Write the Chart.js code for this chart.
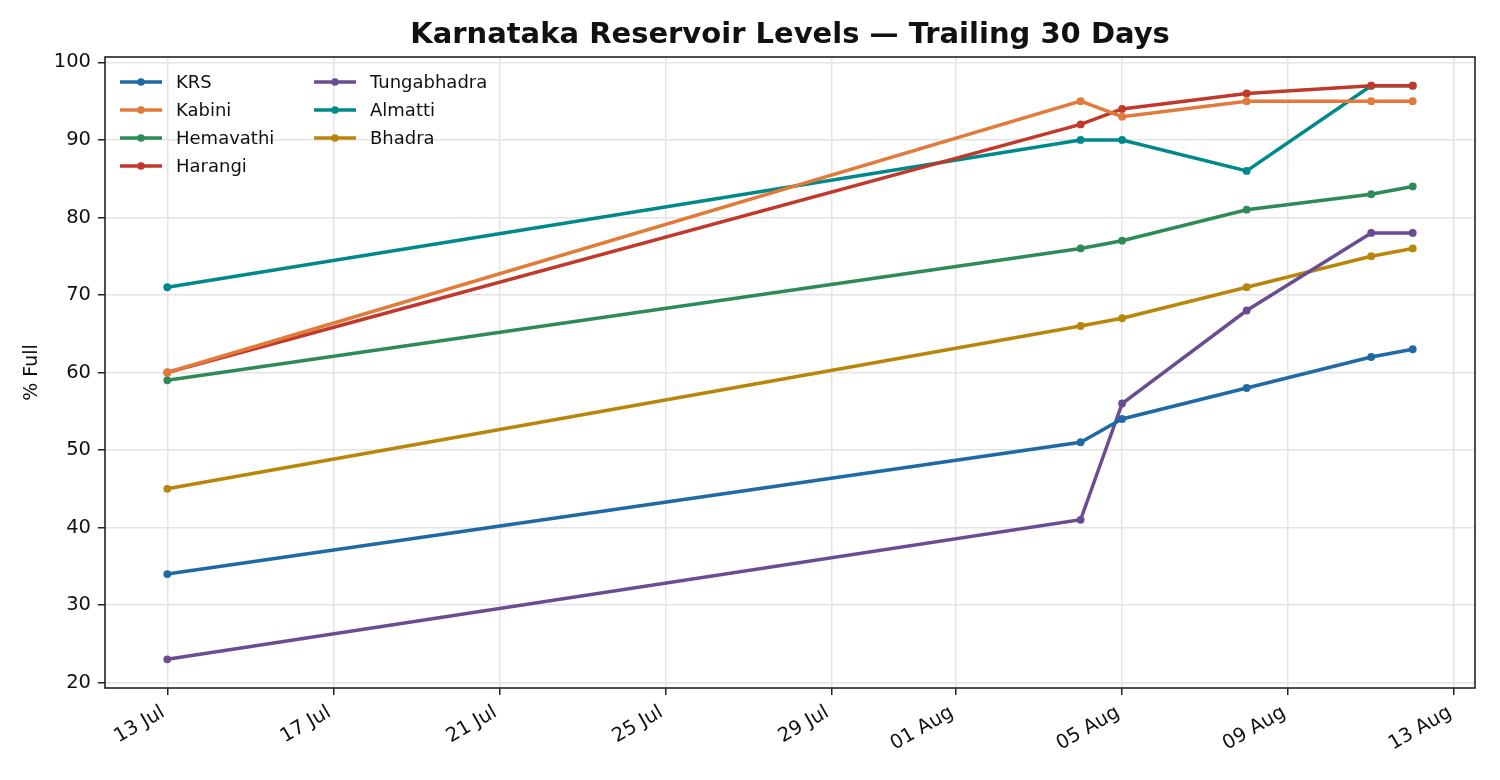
<!DOCTYPE html>
<html lang="en">
<head>
  <meta charset="UTF-8">
  <title>Karnataka Reservoir Levels</title>
  <script src="https://cdn.jsdelivr.net/npm/chart.js@4.4.1/dist/chart.umd.min.js"></script>
  <style>
    body { margin: 0; background: #fff; }
    .wrap { width: 1500px; height: 780px; position: relative; }
  </style>
</head>
<body>
  <div class="wrap"><canvas id="levels"></canvas></div>

  <script>
    // observation dates and % full per reservoir
    const dates = ['2024-07-13', '2024-08-04', '2024-08-05', '2024-08-08', '2024-08-11', '2024-08-12'];
    const krs         = [34, 51, 54, 58, 62, 63];
    const kabini      = [60, 95, 93, 95, 95, 95];
    const hemavathi   = [59, 76, 77, 81, 83, 84];
    const harangi     = [60, 92, 94, 96, 97, 97];
    const tungabhadra = [23, 41, 56, 68, 78, 78];
    const almatti     = [71, 90, 90, 86, 97, 97];
    const bhadra      = [45, 66, 67, 71, 75, 76];

    const tickDates  = ['2024-07-13', '2024-07-17', '2024-07-21', '2024-07-25', '2024-07-29',
                        '2024-08-01', '2024-08-05', '2024-08-09', '2024-08-13'];
    const tickLabels = ['13 Jul', '17 Jul', '21 Jul', '25 Jul', '29 Jul', '01 Aug', '05 Aug', '09 Aug', '13 Aug'];
    const yTicks = [20, 30, 40, 50, 60, 70, 80, 90, 100];

    const series = [
      ['KRS', krs, '#1f6aa5'],
      ['Kabini', kabini, '#e27b3a'],
      ['Hemavathi', hemavathi, '#2e8b57'],
      ['Harangi', harangi, '#c0392b'],
      ['Tungabhadra', tungabhadra, '#6a4c93'],
      ['Almatti', almatti, '#00898a'],
      ['Bhadra', bhadra, '#b8860b']
    ];

    const DAY = 86400000;
    const t0 = Date.parse(dates[0]);
    const dayNum = d => (Date.parse(d) - t0) / DAY;

    const xs = dates.map(dayNum);
    const xSpan = xs[xs.length - 1] - xs[0];
    const allY = series.flatMap(s => s[1]);
    const ySpan = Math.max(...allY) - Math.min(...allY);

    const FONT = 'DejaVu Sans';
    const GRID = { color: '#e4e4e4', lineWidth: 1.5, tickColor: '#222', tickLength: 7, tickWidth: 1.5 };

    // matplotlib-ish frame + two-column legend inside the axes
    const extras = {
      id: 'extras',
      afterDatasetsDraw(chart) {
        const { ctx, chartArea: a } = chart;
        ctx.save();
        ctx.strokeStyle = '#222';
        ctx.lineWidth = 1.6;
        ctx.strokeRect(a.left, a.top, a.right - a.left, a.bottom - a.top);

        ctx.font = '18px "' + FONT + '"';
        ctx.textBaseline = 'middle';
        series.forEach((s, i) => {
          const col = i < 4 ? 0 : 1;
          const row = i < 4 ? i : i - 4;
          const x0 = a.left + 15 + col * 194;
          const y = a.top + 25 + row * 28;
          ctx.strokeStyle = s[2];
          ctx.lineWidth = 3.5;
          ctx.beginPath();
          ctx.moveTo(x0, y);
          ctx.lineTo(x0 + 42, y);
          ctx.stroke();
          ctx.fillStyle = s[2];
          ctx.beginPath();
          ctx.arc(x0 + 21, y, 3.8, 0, Math.PI * 2);
          ctx.fill();
          ctx.fillStyle = '#111';
          ctx.fillText(s[0], x0 + 56, y + 1);
        });
        ctx.restore();
      }
    };

    new Chart(document.getElementById('levels'), {
      type: 'line',
      data: {
        datasets: series.map(s => ({
          label: s[0],
          data: xs.map((x, i) => ({ x: x, y: s[1][i] })),
          borderColor: s[2],
          backgroundColor: s[2],
          borderWidth: 3.5,
          pointRadius: 3.9,
          pointHoverRadius: 3.9,
          pointBorderWidth: 0,
          tension: 0
        }))
      },
      options: {
        responsive: true,
        maintainAspectRatio: false,
        animation: false,
        layout: { padding: { left: 0, right: 25, top: 0, bottom: 0 } },
        plugins: {
          legend: { display: false },
          tooltip: { enabled: false },
          title: {
            display: true,
            fullSize: false,
            text: 'Karnataka Reservoir Levels — Trailing 30 Days',
            color: '#111',
            font: { family: FONT, size: 29, weight: 'bold', lineHeight: 1.2 },
            padding: { top: 18, bottom: 4.2 }
          }
        },
        scales: {
          x: {
            type: 'linear',
            min: xs[0] - xSpan * 0.05,
            max: xs[xs.length - 1] + xSpan * 0.05,
            afterBuildTicks: sc => { sc.ticks = tickDates.map(d => ({ value: dayNum(d) })); },
            afterFit: sc => { sc.height = 92; },
            border: { display: false },
            grid: GRID,
            ticks: {
              autoSkip: false,
              minRotation: 30,
              maxRotation: 30,
              padding: 6,
              labelOffset: -4,
              color: '#111',
              font: { family: FONT, size: 19.5 },
              callback: v => {
                const k = tickDates.findIndex(d => dayNum(d) === v);
                return k >= 0 ? tickLabels[k] : '';
              }
            }
          },
          y: {
            min: Math.min(...allY) - ySpan * 0.05,
            max: Math.max(...allY) + ySpan * 0.05,
            afterBuildTicks: sc => { sc.ticks = yTicks.map(v => ({ value: v })); },
            afterFit: sc => { sc.width = 105; },
            border: { display: false },
            grid: GRID,
            ticks: {
              padding: 7,
              color: '#111',
              font: { family: FONT, size: 19.5 }
            },
            title: {
              display: true,
              text: '% Full',
              color: '#111',
              font: { family: FONT, size: 19 },
              padding: { top: 21, bottom: 0 }
            }
          }
        }
      },
      plugins: [extras]
    });
  </script>
</body>
</html>
